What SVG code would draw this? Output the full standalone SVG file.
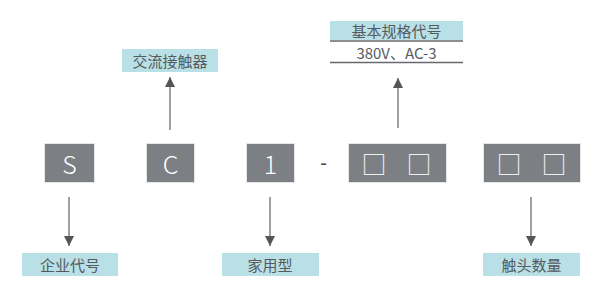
<svg xmlns="http://www.w3.org/2000/svg" width="600" height="305" viewBox="0 0 600 305">
<defs>
<style>
.lbl{fill:#b9e0e6}
.lt{font-family:"Noto Sans CJK SC","Liberation Sans",sans-serif;font-size:15px;fill:#555a5e;text-anchor:middle;dominant-baseline:central}
.gb{fill:#7c8084;stroke:#e6e6e6;stroke-width:1}
.gt{font-family:"Noto Sans CJK SC","Liberation Sans",sans-serif;font-size:25px;fill:#ffffff;text-anchor:middle;dominant-baseline:central;font-weight:300}
.sq{font-family:"Noto Sans CJK SC","Liberation Sans",sans-serif;font-size:25px;fill:#eeeeee;text-anchor:middle;dominant-baseline:central;font-weight:500}
.conn line{stroke:#8a8a8a;stroke-width:1.6}
.rule{stroke:#666a6e;stroke-width:1.6}
</style>
<marker id="ah" viewBox="0 0 10 10" refX="10" refY="5" markerWidth="10" markerHeight="10" markerUnits="userSpaceOnUse" orient="auto">
<path d="M0,0 L10,5 L0,10 Z" fill="#555555"/>
</marker>
</defs>
<rect width="600" height="305" fill="#ffffff"/>

<g id="spec">
<rect class="lbl" x="330" y="21" width="133" height="19"/>
<text class="lt" x="396.5" y="30.5">基本规格代号</text>
<line class="rule" x1="330" y1="41" x2="463" y2="41"/>
<text class="lt" x="396.5" y="52" font-size="16">380V、AC-3</text>
<line class="rule" x1="330" y1="62.5" x2="463" y2="62.5"/>
</g>

<g id="type">
<rect class="lbl" x="122" y="49" width="96" height="23"/>
<text class="lt" x="170" y="60.5">交流接触器</text>
</g>

<g id="nS"><rect class="gb" x="44.5" y="143.5" width="50" height="39"/><text class="gt" x="69.5" y="163">S</text></g>
<g id="nC"><rect class="gb" x="146.5" y="143.5" width="48" height="39"/><text class="gt" x="170.5" y="163">C</text></g>
<g id="n1"><rect class="gb" x="246.5" y="143.5" width="48" height="39"/><text class="gt" x="270.5" y="163">1</text></g>
<g id="dash"><text x="323.5" y="163" font-family="Liberation Sans, sans-serif" font-size="20" fill="#4a4a4a" text-anchor="middle" dominant-baseline="central">-</text></g>
<g id="nSpec"><rect class="gb" x="348.5" y="143.5" width="98" height="39"/><text class="sq" x="374" y="163">□</text><text class="sq" x="419" y="163">□</text></g>
<g id="nCont"><rect class="gb" x="483.5" y="143.5" width="97" height="39"/><text class="sq" x="509" y="163">□</text><text class="sq" x="554" y="163">□</text></g>

<g id="company"><rect class="lbl" x="22" y="253" width="96" height="23"/><text class="lt" x="70" y="264.5">企业代号</text></g>
<g id="home"><rect class="lbl" x="222" y="253" width="97" height="23"/><text class="lt" x="270" y="264.5">家用型</text></g>
<g id="contacts"><rect class="lbl" x="483" y="253" width="97" height="23"/><text class="lt" x="531.5" y="264.5">触头数量</text></g>

<g class="conn">
<line x1="170" y1="130" x2="170" y2="77" marker-end="url(#ah)"/>
<line x1="398" y1="128" x2="398" y2="78" marker-end="url(#ah)"/>
<line x1="69" y1="197" x2="69" y2="246" marker-end="url(#ah)"/>
<line x1="270" y1="197" x2="270" y2="246" marker-end="url(#ah)"/>
<line x1="531" y1="197" x2="531" y2="246" marker-end="url(#ah)"/>
</g>
</svg>
